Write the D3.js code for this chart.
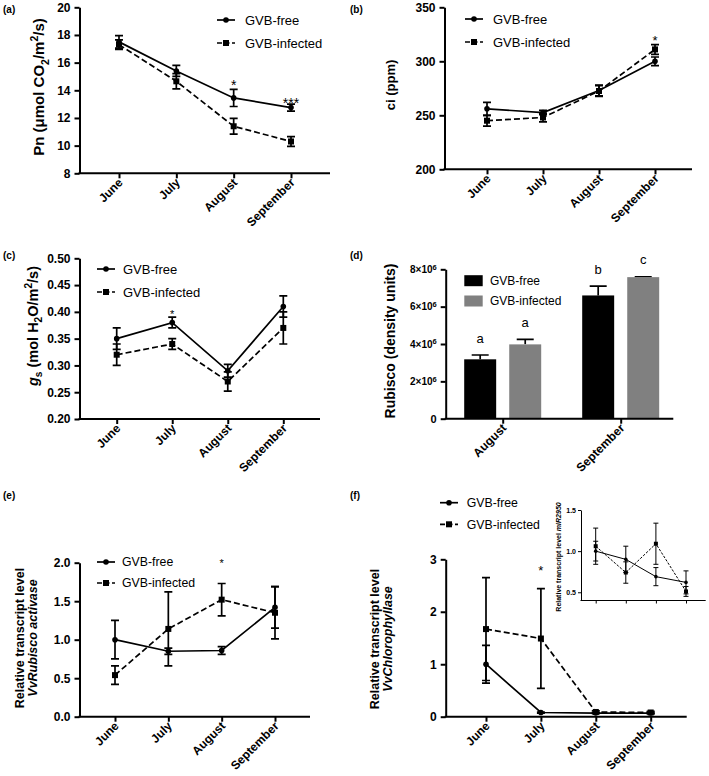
<!DOCTYPE html>
<html>
<head>
<meta charset="utf-8">
<script src="https://cdn.jsdelivr.net/npm/d3@7"></script>
<style>
	body { margin: 0; background: #fff; }
	svg { display: block; }
</style>
</head>
<body>
<svg id="chart" width="709" height="776"></svg>
<script>
const FONT = "'Liberation Sans', Arial, Helvetica, sans-serif";

const months = ["June", "July", "August", "September"];
const seriesNames = ["GVB-free", "GVB-infected"];

// (a) Pn
const pnFree = [17.5, 15.4, 13.45, 12.75];
const pnFreeErr = [0.45, 0.4, 0.62, 0.25];
const pnInf = [17.3, 14.65, 11.4, 10.3];
const pnInfErr = [0.35, 0.55, 0.57, 0.35];
const pnTicks = [8, 10, 12, 14, 16, 18, 20];
const pnStars = [{ month: "August", text: "*", at: 14.6 }, { month: "September", text: "***", at: 13.3 }];

// (b) ci
const ciFree = [256, 252.5, 273, 300];
const ciFreeErr = [6, 2, 5, 4];
const ciInf = [245, 248, 272.5, 311];
const ciInfErr = [5, 4, 5, 4.5];
const ciTicks = [200, 250, 300, 350];
const ciStars = [{ month: "September", text: "*", at: 321.6 }];

// (c) gs
const gsFree = [0.35, 0.38, 0.29, 0.41];
const gsFreeErr = [0.02, 0.01, 0.012, 0.02];
const gsInf = [0.32, 0.34, 0.27, 0.37];
const gsInfErr = [0.02, 0.01, 0.018, 0.03];
const gsTicks = [0.20, 0.25, 0.30, 0.35, 0.40, 0.45, 0.50];
const gsStars = [{ month: "July", text: "*", at: 0.40 }];

// (d) Rubisco
const rubMonths = ["August", "September"];
const rubFree = [3.18e6, 6.6e6];
const rubFreeErr = [0.23e6, 0.5e6];
const rubInf = [3.98e6, 7.58e6];
const rubInfErr = [0.27e6, 0.02e6];
const rubLettersFree = ["a", "b"];
const rubLettersInf = ["a", "c"];
const rubTicks = [0, 2e6, 4e6, 6e6, 8e6];

// (e) VvRubisco activase
const rcaFree = [1.0, 0.85, 0.86, 1.42];
const rcaFreeErr = [0.25, 0.04, 0.05, 0.27];
const rcaInf = [0.54, 1.14, 1.52, 1.35];
const rcaInfErr = [0.12, 0.48, 0.21, 0.34];
const rcaTicks = [0, 0.5, 1.0, 1.5, 2.0];
const rcaStars = [{ month: "August", text: "*", at: 2.02 }];

// (f) VvChlorophyllase
const chlFree = [1.0, 0.08, 0.07, 0.07];
const chlFreeErr = [0.36, 0.01, 0.01, 0.01];
const chlInf = [1.67, 1.49, 0.09, 0.08];
const chlInfErr = [0.98, 0.95, 0.02, 0.02];
const chlTicks = [0, 1, 2, 3];
const chlStars = [{ month: "July", text: "*", at: 2.85 }];

// (f) inset miR2950
const mirFree = [1.0, 0.9, 0.69, 0.62];
const mirFreeErr = [0.12, 0.16, 0.11, 0.14];
const mirInf = [1.06, 0.74, 1.09, 0.51];
const mirInfErr = [0.22, 0.13, 0.25, 0.06];
const mirTicks = [0.5, 1.0, 1.5];

const svg = d3.select("#chart").attr("font-family", FONT);

const MAIN = { axisW: 2, tickLen: 5, tickPad: 4, tickFont: 12, xFont: 12, lw: 1.7, r: 2.8, sq: 6, cap: 4, dash: "6,3" };
const INSET = { axisW: 1, tickLen: 3, tickPad: 2, tickFont: 7, xFont: 0, lw: 1, r: 1.8, sq: 4, cap: 2.5, dash: "2.5,1.5" };

function richText(sel, parts, fs) {
	let shift = 0;
	parts.forEach(p => {
		const target = p.sub ? fs * 0.3 : p.sup ? -fs * 0.4 : 0;
		const ts = sel.append("tspan").attr("dy", target - shift).text(p.t);
		if (p.sub || p.sup) ts.attr("font-size", fs * 0.7);
		if (p.italic) ts.attr("font-style", "italic");
		shift = target;
	});
}

function yTitle(g, parts, cx, cy, fs) {
	const t = g.append("text")
		.attr("transform", `translate(${cx + fs * 0.35},${cy}) rotate(-90)`)
		.attr("text-anchor", "middle")
		.attr("font-weight", "bold")
		.attr("font-size", fs);
	richText(t, parts, fs);
}

function panelLabel(text, x, y) {
	svg.append("text").attr("x", x).attr("y", y)
		.attr("font-size", 10).attr("font-weight", "bold").text(text);
}

function styleAxis(sel, st) {
	sel.attr("font-family", FONT).attr("font-size", st.tickFont);
	sel.select(".domain").attr("stroke-width", st.axisW);
	sel.selectAll(".tick line").attr("stroke-width", st.axisW);
	sel.selectAll(".tick text").attr("font-weight", "bold");
}

function xAxisLine(g, st, x, left, right, bottom) {
	const xAxis = g.append("g")
		.attr("transform", `translate(0,${bottom})`)
		.call(d3.axisBottom(x).tickSize(st.tickLen).tickSizeOuter(0));
	styleAxis(xAxis, st);
	xAxis.select(".domain").remove();
	xAxis.append("line")
		.attr("x1", left - st.axisW / 2).attr("x2", right)
		.attr("stroke", "#000").attr("stroke-width", st.axisW);
	if (st.xFont) {
		xAxis.selectAll(".tick text")
			.attr("font-size", st.xFont)
			.attr("y", 0).attr("dy", 0)
			.attr("transform", "translate(4,10) rotate(-45)")
			.attr("text-anchor", "end");
	} else {
		xAxis.selectAll(".tick text").remove();
	}
}

function drawLinePanel(p) {
	const st = p.style;
	const g = svg.append("g");
	const x = d3.scalePoint().domain(months).range(p.catRange);
	const y = d3.scaleLinear().domain(p.yDomain).range([p.bottom, p.top]);

	const yAxis = g.append("g")
		.attr("transform", `translate(${p.left},0)`)
		.call(d3.axisLeft(y).tickValues(p.yTicks).tickFormat(p.yFormat)
			.tickSize(st.tickLen).tickSizeOuter(0).tickPadding(st.tickPad));
	styleAxis(yAxis, st);
	xAxisLine(g, st, x, p.left, p.right, p.bottom);

	const series = [
		{ vals: p.free, errs: p.freeErr, dash: null, marker: "circle" },
		{ vals: p.inf, errs: p.infErr, dash: st.dash, marker: "square" }
	].map(s => Object.assign(s, {
		pts: months.map((m, i) => ({ cat: m, v: s.vals[i], e: s.errs[i] }))
	}));

	const line = d3.line().x(d => x(d.cat)).y(d => y(d.v));

	series.forEach(s => {
		g.append("path").datum(s.pts)
			.attr("d", line)
			.attr("fill", "none")
			.attr("stroke", "#000")
			.attr("stroke-width", st.lw)
			.attr("stroke-dasharray", s.dash);
	});

	series.forEach(s => {
		g.append("g").selectAll("path").data(s.pts).join("path")
			.attr("d", d => {
				const cx = x(d.cat), lo = y(d.v - d.e), hi = y(d.v + d.e);
				return `M${cx},${lo}V${hi}M${cx - st.cap},${hi}h${st.cap * 2}M${cx - st.cap},${lo}h${st.cap * 2}`;
			})
			.attr("fill", "none")
			.attr("stroke", "#000")
			.attr("stroke-width", st.lw);
	});

	series.forEach(s => {
		const mg = g.append("g");
		if (s.marker === "circle") {
			mg.selectAll("circle").data(s.pts).join("circle")
				.attr("cx", d => x(d.cat)).attr("cy", d => y(d.v)).attr("r", st.r);
		} else {
			mg.selectAll("rect").data(s.pts).join("rect")
				.attr("x", d => x(d.cat) - st.sq / 2).attr("y", d => y(d.v) - st.sq / 2)
				.attr("width", st.sq).attr("height", st.sq);
		}
	});

	if (p.stars) {
		g.selectAll("text.star").data(p.stars).join("text")
			.attr("class", "star")
			.attr("x", d => x(d.month))
			.attr("y", d => y(d.at) + p.starSize * 0.575)
			.attr("text-anchor", "middle")
			.attr("font-size", p.starSize)
			.text(d => d.text);
	}

	if (p.legend) {
		const lg = p.legend;
		seriesNames.forEach((name, i) => {
			const ly = lg.y[i];
			g.append("line")
				.attr("x1", lg.x).attr("x2", lg.x + 18).attr("y1", ly).attr("y2", ly)
				.attr("stroke", "#000").attr("stroke-width", st.lw)
				.attr("stroke-dasharray", i === 0 ? null : "5,2.5");
			if (i === 0) {
				g.append("circle").attr("cx", lg.x + 9).attr("cy", ly).attr("r", st.r);
			} else {
				g.append("rect").attr("x", lg.x + 9 - st.sq / 2).attr("y", ly - st.sq / 2)
					.attr("width", st.sq).attr("height", st.sq);
			}
			g.append("text")
				.attr("x", lg.textX).attr("y", ly).attr("dy", "0.35em")
				.attr("font-size", lg.fs)
				.text(name);
		});
	}

	p.titles.forEach(t => yTitle(g, t.parts, t.cx, p.titleY, p.titleSize));
}

function drawBarPanel(p) {
	const st = MAIN;
	const g = svg.append("g");
	const x0 = d3.scalePoint().domain(rubMonths).range(p.groupRange);
	const x1 = d3.scaleBand().domain(seriesNames).range([-38.5, 38.5]).paddingInner(0.29);
	const y = d3.scaleLinear().domain([0, 8e6]).range([p.bottom, p.top]);
	const colors = ["#000000", "#808080"];

	const yAxis = g.append("g")
		.attr("transform", `translate(${p.left},0)`)
		.call(d3.axisLeft(y).tickValues(rubTicks)
			.tickSize(st.tickLen).tickSizeOuter(0).tickPadding(st.tickPad));
	styleAxis(yAxis, st);
	yAxis.selectAll(".tick text").attr("font-size", 10).each(function (d) {
		const t = d3.select(this).text(null);
		if (d === 0) {
			t.attr("font-size", 11).text("0");
		} else {
			t.append("tspan").text((d / 1e6) + "×10");
			t.append("tspan").attr("dy", "-0.45em").attr("font-size", "0.75em").text("6");
		}
	});

	const bars = [
		{ name: seriesNames[0], vals: rubFree, errs: rubFreeErr, letters: rubLettersFree },
		{ name: seriesNames[1], vals: rubInf, errs: rubInfErr, letters: rubLettersInf }
	];

	bars.forEach((s, si) => {
		const pts = rubMonths.map((m, i) => ({ m, v: s.vals[i], e: s.errs[i], l: s.letters[i] }));
		const cx = d => x0(d.m) + x1(s.name) + x1.bandwidth() / 2;
		g.append("g").selectAll("path").data(pts).join("path")
			.attr("d", d => `M${cx(d)},${y(d.v)}V${y(d.v + d.e)}M${cx(d) - 8.5},${y(d.v + d.e)}h17`)
			.attr("stroke", "#000").attr("stroke-width", 1.7).attr("fill", "none");
		g.append("g").selectAll("rect").data(pts).join("rect")
			.attr("x", d => x0(d.m) + x1(s.name))
			.attr("y", d => y(d.v))
			.attr("width", x1.bandwidth())
			.attr("height", d => p.bottom - y(d.v))
			.attr("fill", colors[si]);
		g.append("g").selectAll("text").data(pts).join("text")
			.attr("x", cx)
			.attr("y", d => y(d.v + d.e) - 12.5)
			.attr("text-anchor", "middle")
			.attr("font-size", 13)
			.text(d => d.l);
	});

	const xAxis = g.append("g")
		.attr("transform", `translate(0,${p.bottom})`)
		.call(d3.axisBottom(x0).tickSize(st.tickLen).tickSizeOuter(0));
	styleAxis(xAxis, st);
	xAxis.select(".domain").remove();
	xAxis.append("line")
		.attr("x1", p.left - st.axisW / 2).attr("x2", p.right)
		.attr("stroke", "#000").attr("stroke-width", st.axisW);
	xAxis.selectAll(".tick text")
		.attr("font-size", st.xFont)
		.attr("y", 0).attr("dy", 0)
		.attr("transform", "translate(4,10) rotate(-45)")
		.attr("text-anchor", "end");

	const lg = p.legend;
	seriesNames.forEach((name, i) => {
		g.append("rect")
			.attr("x", lg.x).attr("y", lg.y[i] - 5.5)
			.attr("width", 18.4).attr("height", 11)
			.attr("fill", colors[i]);
		g.append("text")
			.attr("x", lg.textX).attr("y", lg.y[i]).attr("dy", "0.35em")
			.attr("font-size", lg.fs).text(name);
	});

	yTitle(g, [{ t: "Rubisco (density units)" }], p.titleX, p.titleY, p.titleSize);
}

// (a)
drawLinePanel({
	style: MAIN, left: 79.5, right: 330, top: 7.3, bottom: 173.3, catRange: [119, 291],
	yDomain: [8, 20], yTicks: pnTicks, yFormat: d3.format("d"),
	free: pnFree, freeErr: pnFreeErr, inf: pnInf, infErr: pnInfErr,
	stars: pnStars, starSize: 14,
	legend: { x: 217, y: [20, 43], textX: 245, fs: 13 },
	titles: [{ cx: 39, parts: [{ t: "Pn (μmol CO" }, { t: "2", sub: true }, { t: "/m" }, { t: "2", sup: true }, { t: "/s)" }] }],
	titleY: 87, titleSize: 15
});

// (b)
drawLinePanel({
	style: MAIN, left: 444.5, right: 692, top: 7.3, bottom: 169.3, catRange: [487, 655],
	yDomain: [200, 350], yTicks: ciTicks, yFormat: d3.format("d"),
	free: ciFree, freeErr: ciFreeErr, inf: ciInf, infErr: ciInfErr,
	stars: ciStars, starSize: 13,
	legend: { x: 465, y: [19, 42], textX: 493, fs: 13 },
	titles: [{ cx: 390, parts: [{ t: "ci (ppm)" }] }],
	titleY: 85, titleSize: 13
});

// (c)
drawLinePanel({
	style: MAIN, left: 79.5, right: 320, top: 258.3, bottom: 419, catRange: [116.7, 283.3],
	yDomain: [0.2, 0.5], yTicks: gsTicks, yFormat: d3.format(".2f"),
	free: gsFree, freeErr: gsFreeErr, inf: gsInf, infErr: gsInfErr,
	stars: gsStars, starSize: 11,
	legend: { x: 97, y: [269, 292], textX: 123, fs: 13 },
	titles: [{ cx: 33, parts: [{ t: "g", italic: true }, { t: "s", sub: true }, { t: " (mol H" }, { t: "2", sub: true }, { t: "O/m" }, { t: "2", sup: true }, { t: "/s)" }] }],
	titleY: 326, titleSize: 14.5
});

// (d)
drawBarPanel({
	left: 445.7, right: 673.3, top: 269.3, bottom: 418.7, groupRange: [502.7, 620.7],
	legend: { x: 464.3, y: [280.7, 301], textX: 490, fs: 12 },
	titleX: 390, titleY: 341, titleSize: 14
});

// (e)
drawLinePanel({
	style: MAIN, left: 79.5, right: 310, top: 562.7, bottom: 716.7, catRange: [115, 275],
	yDomain: [0, 2], yTicks: rcaTicks, yFormat: d3.format(".1f"),
	free: rcaFree, freeErr: rcaFreeErr, inf: rcaInf, infErr: rcaInfErr,
	stars: rcaStars, starSize: 11,
	legend: { x: 97, y: [562, 583], textX: 122, fs: 12.3 },
	titles: [
		{ cx: 20, parts: [{ t: "Relative transcript level" }] },
		{ cx: 33, parts: [{ t: "VvRubisco activase", italic: true }] }
	],
	titleY: 638, titleSize: 12.5
});

// (f)
drawLinePanel({
	style: MAIN, left: 445.7, right: 686.7, top: 559.3, bottom: 716.7, catRange: [486, 650.7],
	yDomain: [0, 3], yTicks: chlTicks, yFormat: d3.format("d"),
	free: chlFree, freeErr: chlFreeErr, inf: chlInf, infErr: chlInfErr,
	stars: chlStars, starSize: 13,
	legend: { x: 440, y: [502.7, 524.3], textX: 466.7, fs: 12.3 },
	titles: [
		{ cx: 375, parts: [{ t: "Relative transcript level" }] },
		{ cx: 388, parts: [{ t: "VvChlorophyllase", italic: true }] }
	],
	titleY: 639, titleSize: 12.5
});

// (f) inset
drawLinePanel({
	style: INSET, left: 581, right: 705.7, top: 510, bottom: 600.5, catRange: [595.7, 686],
	yDomain: [0.4, 1.5], yTicks: mirTicks, yFormat: d3.format(".1f"),
	free: mirFree, freeErr: mirFreeErr, inf: mirInf, infErr: mirInfErr,
	titles: [{ cx: 559, parts: [{ t: "Relative transcript level " }, { t: "miR2950", italic: true }] }],
	titleY: 557, titleSize: 7
});

panelLabel("(a)", 3, 13);
panelLabel("(b)", 350, 13);
panelLabel("(c)", 3, 259);
panelLabel("(d)", 350, 259);
panelLabel("(e)", 3, 499);
panelLabel("(f)", 350, 499);
</script>
</body>
</html>
